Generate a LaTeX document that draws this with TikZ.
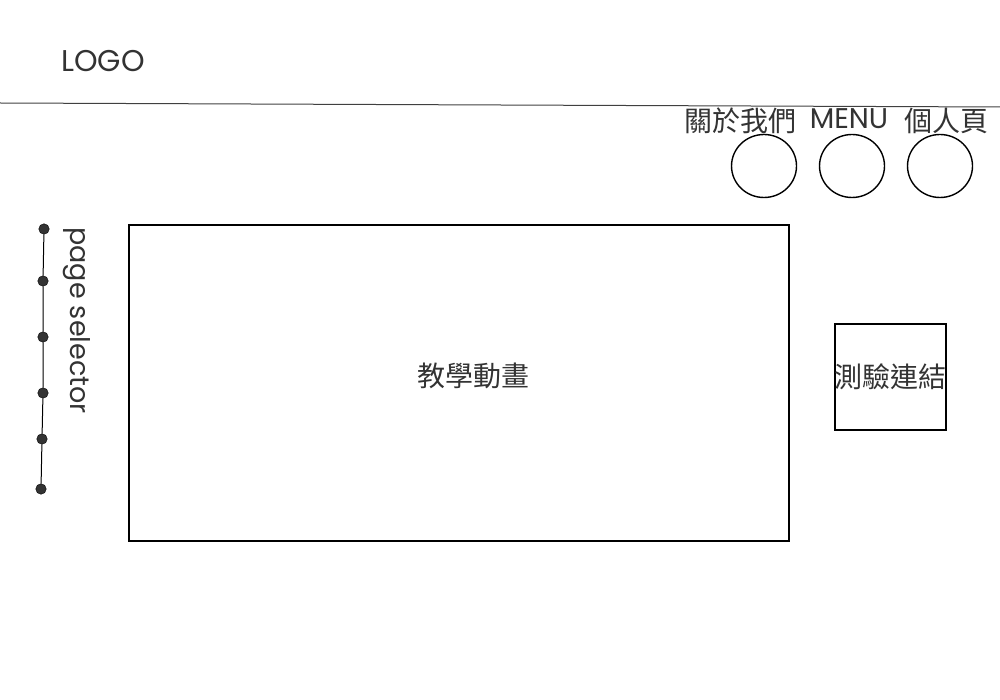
\documentclass[tikz,border=0pt]{standalone}
\usepackage{fontspec}
\usetikzlibrary{shapes.geometric}
\setmainfont{Poppins}
\newfontfamily\cjk{Noto Sans CJK TC}
\begin{document}
\begin{tikzpicture}[x=1pt,y=-1pt,
  lbl/.style={text=black!80, inner sep=0pt, font=\fontsize{28.5}{28.5}\selectfont},
  cjklbl/.style={text=black!80, inner sep=0pt, font=\cjk\fontsize{28}{28}\selectfont},
  btn/.style={draw, line width=1.4pt, ellipse, minimum width=65pt, minimum height=63pt, inner sep=0pt},
  dot/.style={circle, fill=black!80, draw=black, minimum size=10.5pt, inner sep=0pt}]
\useasboundingbox (0,0) rectangle (1000,700);
\node[lbl, font=\fontsize{30}{30}\selectfont] (logo) at (103,61) {LOGO};
\coordinate (hl) at (0,103);
\coordinate (hr) at (1000,107);
\draw[line width=1pt, black!75] (hl) -- (hr);
\node[cjklbl] (about) at (740,121) {關於我們};
\node[lbl] (menu) at (849,119) {MENU};
\node[cjklbl] (me) at (946,121) {個人頁};
\node[btn] (c1) at (764,166) {};
\node[btn] (c2) at (852,166) {};
\node[btn] (c3) at (940,166) {};
\node[draw, line width=1.4pt, minimum width=660pt, minimum height=316pt, inner sep=0pt] (main) at (459,383) {};
\node[cjklbl] (anim) at (473,376) {教學動畫};
\node[draw, line width=1.4pt, minimum width=111pt, minimum height=106pt, inner sep=0pt] (quiz) at (890.5,377) {};
\node[cjklbl] at (quiz.center) {測驗連結};
\node[dot] (d1) at (44,229) {};
\node[dot] (d2) at (43,281) {};
\node[dot] (d3) at (43,337) {};
\node[dot] (d4) at (43,393) {};
\node[dot] (d5) at (42,439) {};
\node[dot] (d6) at (41,489) {};
\draw[line width=1pt] (d1) -- (d2) -- (d3) -- (d4) -- (d5) -- (d6);
\node[lbl, font=\fontsize{27}{27}\selectfont, rotate=-90, anchor=center] (ps) at (77,320.5) {page selector};
\end{tikzpicture}
\end{document}
